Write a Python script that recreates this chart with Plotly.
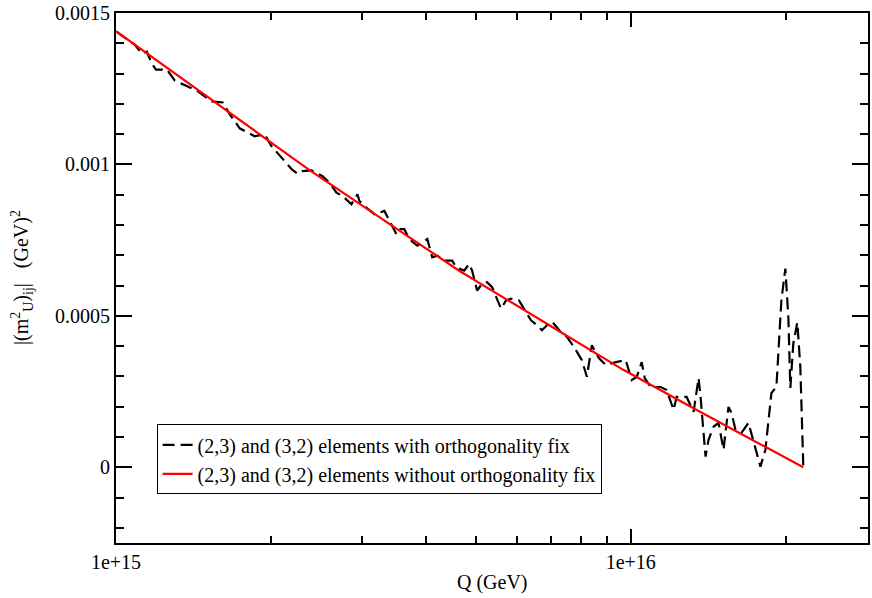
import plotly.graph_objects as go

# (2,3) and (3,2) elements with orthogonality fix
q_fix = [1.003e15, 1.055e15, 1.088e15, 1.123e15, 1.148e15, 1.174e15, 1.196e15, 1.228e15, 1.256e15, 1.301e15,
         1.361e15, 1.435e15, 1.535e15, 1.612e15, 1.664e15, 1.739e15, 1.860e15, 1.944e15, 2.006e15, 2.107e15,
         2.194e15, 2.253e15, 2.304e15, 2.398e15, 2.519e15, 2.599e15, 2.681e15, 2.754e15, 2.867e15, 2.945e15,
         2.971e15, 3.065e15, 3.177e15, 3.322e15, 3.397e15, 3.505e15, 3.552e15, 3.632e15, 3.714e15, 3.849e15,
         4.025e15, 4.115e15, 4.208e15, 4.342e15, 4.499e15, 4.580e15, 4.747e15, 4.854e15, 4.919e15, 5.030e15,
         5.144e15, 5.260e15, 5.379e15, 5.475e15, 5.599e15, 5.725e15, 5.854e15, 6.067e15, 6.204e15, 6.401e15,
         6.575e15, 6.723e15, 6.875e15, 7.030e15, 7.319e15, 7.517e15, 7.756e15, 8.038e15, 8.219e15, 8.404e15,
         8.671e15, 8.946e15, 9.355e15, 9.779e15, 1.0045e16, 1.0271e16, 1.0503e16, 1.0645e16, 1.0933e16, 1.1433e16,
         1.1743e16, 1.2116e16, 1.2279e16, 1.2840e16, 1.3247e16, 1.3546e16, 1.3668e16, 1.3976e16, 1.4164e16, 1.4484e16,
         1.4811e16, 1.5145e16, 1.5487e16, 1.5695e16, 1.5978e16, 1.6412e16, 1.6933e16, 1.7316e16, 1.7865e16, 1.8268e16,
         1.8765e16, 1.9188e16, 1.9359e16, 1.9620e16, 1.9973e16, 2.0242e16, 2.0424e16, 2.0699e16, 2.1072e16, 2.1356e16,
         2.1643e16]
m2_fix = [14.378e-4, 14.116e-4, 13.951e-4, 13.656e-4, 13.721e-4, 13.327e-4, 13.130e-4, 13.130e-4, 13.130e-4, 12.769e-4,
          12.605e-4, 12.440e-4, 12.079e-4, 12.046e-4, 11.652e-4, 11.192e-4, 10.929e-4, 10.995e-4, 10.601e-4, 10.174e-4,
          9.845e-4, 9.691e-4, 9.779e-4, 9.802e-4, 9.615e-4, 9.395e-4, 9.067e-4, 8.958e-4, 8.686e-4, 9.014e-4,
          8.794e-4, 8.574e-4, 8.357e-4, 8.465e-4, 8.137e-4, 7.700e-4, 7.864e-4, 7.864e-4, 7.536e-4, 7.316e-4,
          7.536e-4, 6.931e-4, 6.987e-4, 6.823e-4, 6.823e-4, 6.603e-4, 6.494e-4, 6.715e-4, 6.494e-4, 5.838e-4,
          6.058e-4, 6.110e-4, 5.946e-4, 5.617e-4, 5.236e-4, 5.509e-4, 5.565e-4, 5.509e-4, 5.236e-4, 4.852e-4,
          4.688e-4, 4.523e-4, 4.688e-4, 4.819e-4, 4.458e-4, 4.303e-4, 3.975e-4, 3.538e-4, 2.989e-4, 4.031e-4,
          3.604e-4, 3.374e-4, 3.472e-4, 3.538e-4, 2.881e-4, 2.979e-4, 3.472e-4, 2.947e-4, 2.651e-4, 2.651e-4,
          2.552e-4, 1.895e-4, 2.322e-4, 2.322e-4, 1.830e-4, 2.947e-4, 2.322e-4, 0.351e-4, 0.910e-4, 1.337e-4,
          1.468e-4, 0.581e-4, 1.994e-4, 1.797e-4, 1.238e-4, 1.140e-4, 1.468e-4, 0.844e-4, 0.023e-4, 0.581e-4,
          2.454e-4, 2.651e-4, 3.866e-4, 5.509e-4, 6.560e-4, 4.950e-4, 2.618e-4, 4.096e-4, 4.786e-4, 3.308e-4,
          0.0]

# (2,3) and (3,2) elements without orthogonality fix
q_nofix = [1.0e15, 1.455e15, 2.377e15, 3.397e15, 4.642e15, 6.937e15, 9.692e15, 1.3546e16, 1.7706e16, 2.1643e16]
m2_nofix = [14.40e-4, 12.41e-4, 9.81e-4, 8.04e-4, 6.49e-4, 4.70e-4, 3.21e-4, 1.86e-4, 0.80e-4, 0.0]

x_tickvals = [1e15, 1e16]
x_ticktext = ["1e+15", "1e+16"]
x_minor = [2e15, 3e15, 4e15, 5e15, 6e15, 7e15, 8e15, 9e15, 2e16]
y_tickvals = [0, 0.0005, 0.001, 0.0015]
y_ticktext = ["0", "0.0005", "0.001", "0.0015"]

FONT = "Liberation Serif"

fig = go.Figure()
fig.add_trace(go.Scatter(x=q_fix, y=m2_fix, mode="lines",
                         name="(2,3) and (3,2) elements with orthogonality fix",
                         line=dict(color="black", width=2.2, dash="12px,6px")))
fig.add_trace(go.Scatter(x=q_nofix, y=m2_nofix, mode="lines",
                         name="(2,3) and (3,2) elements without orthogonality fix",
                         line=dict(color="#ff0000", width=2.2)))

fig.update_layout(
    width=872, height=598,
    margin=dict(l=116, r=2, t=11, b=55),
    paper_bgcolor="white", plot_bgcolor="white",
    font=dict(family=FONT, size=20, color="black"),
    showlegend=True,
    legend=dict(x=0.054, y=0.2237, xanchor="left", yanchor="top",
                bordercolor="black", borderwidth=1, bgcolor="white",
                font=dict(family=FONT, size=20), tracegroupgap=0,
                entrywidth=440, entrywidthmode="pixels"),
    annotations=[
        dict(text="|(m<sup>2</sup><sub>U</sub>)<sub>ij</sub>|&nbsp;&nbsp;&nbsp;(GeV)<sup>2</sup>",
             xref="paper", yref="paper", x=-0.125, y=0.5, xanchor="center", yanchor="middle",
             textangle=-90, showarrow=False, font=dict(family=FONT, size=20)),
        dict(text="Q (GeV)", xref="paper", yref="paper", x=0.5, y=-0.075,
             xanchor="center", yanchor="middle", showarrow=False, font=dict(family=FONT, size=20)),
    ],
)
fig.update_xaxes(type="log", range=[15, 16.461], showgrid=False, zeroline=False,
                 showline=True, linecolor="black", linewidth=2, mirror="allticks",
                 ticks="inside", ticklen=14, tickwidth=1.5, tickcolor="black",
                 tickmode="array", tickvals=x_tickvals, ticktext=x_ticktext,
                 tickfont=dict(family=FONT, size=20),
                 minor=dict(tickmode="array", tickvals=x_minor, ticks="inside", ticklen=7,
                            tickwidth=1.5, tickcolor="black", showgrid=False))
fig.update_yaxes(range=[-0.00025, 0.0015], showgrid=False, zeroline=False,
                 showline=True, linecolor="black", linewidth=2, mirror="allticks",
                 ticks="inside", ticklen=16, tickwidth=1.5, tickcolor="black",
                 tickmode="array", tickvals=y_tickvals, ticktext=y_ticktext,
                 tickfont=dict(family=FONT, size=20),
                 ticklabelstandoff=0,
                 minor=dict(tick0=0, dtick=0.0001, ticks="inside", ticklen=8,
                            tickwidth=1.5, tickcolor="black", showgrid=False))

fig.write_html("out.html")
